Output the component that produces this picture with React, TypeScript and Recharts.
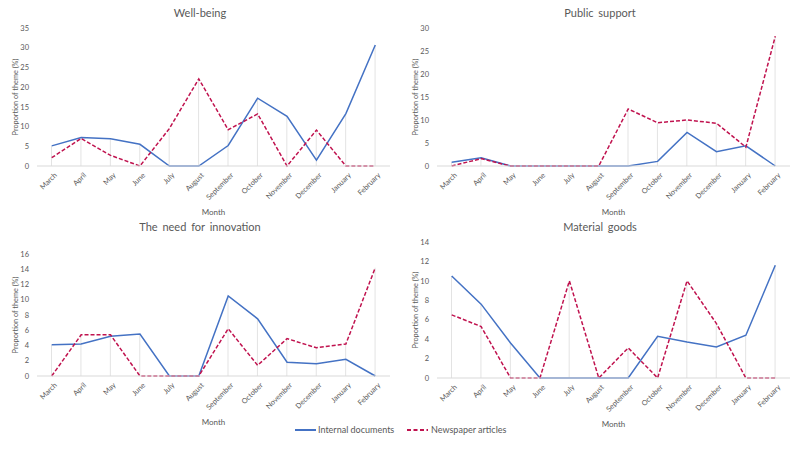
import React from 'react';
import { ComposedChart, Line, Bar, XAxis, YAxis } from 'recharts';

const months = ['March', 'April', 'May', 'June', 'July', 'August', 'September', 'October', 'November', 'December', 'January', 'February'];

const wellInternal = [5.1, 7.2, 6.9, 5.5, 0, 0, 5.2, 17.2, 12.6, 1.5, 13.3, 30.7];
const wellNews = [2.1, 7.0, 2.7, 0, 9.5, 22.1, 9.2, 13.2, 0, 9.1, 0, 0];

const supportInternal = [0.8, 1.8, 0, 0, 0, 0, 0, 1.0, 7.3, 3.1, 4.4, 0];
const supportNews = [0, 1.6, 0, 0, 0, 0, 12.4, 9.4, 10.0, 9.3, 4.1, 28.2];

const innovInternal = [4.1, 4.2, 5.2, 5.5, 0, 0, 10.5, 7.5, 1.8, 1.6, 2.2, 0];
const innovNews = [0, 5.4, 5.4, 0, 0, 0, 6.2, 1.4, 4.9, 3.7, 4.2, 14.2];

const goodsInternal = [10.5, 7.6, 3.6, 0, 0, 0, 0, 4.3, 3.7, 3.2, 4.4, 11.6];
const goodsNews = [6.5, 5.3, 0, 0, 10.0, 0, 3.1, 0, 10.0, 5.6, 0, 0];

const wellTicks = [0, 5, 10, 15, 20, 25, 30, 35];
const supportTicks = [0, 5, 10, 15, 20, 25, 30];
const innovTicks = [0, 2, 4, 6, 8, 10, 12, 14, 16];
const goodsTicks = [0, 2, 4, 6, 8, 10, 12, 14];

const BLUE = '#4472C4';
const RED = '#C0134F';
const FONT = 'Lato, "Open Sans", sans-serif';
const GREY = '#595959';

function build(internal: number[], news: number[]) {
  return months.map((m, i) => ({
    month: m,
    internal: internal[i],
    news: news[i],
    drop: Math.max(internal[i], news[i]),
  }));
}

type PanelProps = {
  title: string;
  internal: number[];
  news: number[];
  ticks: number[];
  left: number;
  top: number;
  height: number;
  marginTop: number;
  titleTop: number;
};

function Panel({ title, internal, news, ticks, left, top, height, marginTop, titleTop }: PanelProps) {
  const data = build(internal, news);
  return (
    <div style={{ position: 'absolute', left, top, width: 400, height }}>
      <div
        style={{
          position: 'absolute',
          left: 0,
          width: 400,
          top: titleTop,
          textAlign: 'center',
          fontFamily: FONT,
          fontSize: 11,
          color: GREY,
          wordSpacing: 2,
          lineHeight: '12px',
        }}
      >
        {title}
      </div>
      <ComposedChart
        width={400}
        height={height}
        data={data}
        margin={{ top: marginTop, right: 10, bottom: 0, left: 8 }}
        style={{ position: 'absolute', left: 0, top: 0 }}
      >
        <XAxis
          dataKey="month"
          interval={0}
          height={52}
          tickLine={false}
          axisLine={{ stroke: '#d9d9d9' }}
          tick={{ fontSize: 7.3, fill: GREY, fontFamily: FONT, angle: -45, textAnchor: 'end', dy: -2, dx: 2 }}
          label={{ value: 'Month', position: 'insideBottom', offset: 3, fontSize: 8, fill: GREY, fontFamily: FONT }}
        />
        <YAxis
          domain={[0, ticks[ticks.length - 1]]}
          ticks={ticks}
          interval={0}
          width={29}
          axisLine={false}
          tickLine={false}
          tick={{ fontSize: 7.5, fill: GREY, fontFamily: FONT }}
          label={{
            value: 'Proportion of theme (%)',
            angle: -90,
            position: 'insideLeft',
            offset: 7,
            style: { textAnchor: 'middle' },
            fontSize: 7.3,
            fill: GREY,
            fontFamily: FONT,
          }}
        />
        <Bar dataKey="drop" barSize={1} fill="#e3e3e3" isAnimationActive={false} />
        <Line
          type="linear"
          dataKey="internal"
          stroke={BLUE}
          strokeWidth={1.5}
          dot={false}
          activeDot={false}
          isAnimationActive={false}
        />
        <Line
          type="linear"
          dataKey="news"
          stroke={RED}
          strokeWidth={1.5}
          strokeDasharray="4 2"
          dot={false}
          activeDot={false}
          isAnimationActive={false}
        />
      </ComposedChart>
    </div>
  );
}

function LegendRow() {
  return (
    <div
      style={{
        position: 'absolute',
        left: 0,
        top: 423,
        width: 800,
        height: 14,
        fontFamily: FONT,
        fontSize: 9,
        color: GREY,
      }}
    >
      <svg width={800} height={14} style={{ position: 'absolute', left: 0, top: 0 }}>
        <line x1={295} x2={316} y1={7} y2={7} stroke={BLUE} strokeWidth={2} />
        <line x1={407} x2={428} y1={7} y2={7} stroke={RED} strokeWidth={2} strokeDasharray="4 2.5" />
      </svg>
      <span style={{ position: 'absolute', left: 318, top: 0, lineHeight: '14px' }}>Internal documents</span>
      <span style={{ position: 'absolute', left: 431, top: 0, lineHeight: '14px' }}>Newspaper articles</span>
    </div>
  );
}

export default function App() {
  return (
    <div style={{ position: 'absolute', left: 0, top: 0, width: 800, height: 450, background: '#fff', overflow: 'hidden' }}>
      <Panel title="Well-being" internal={wellInternal} news={wellNews} ticks={wellTicks} left={0} top={0} height={218} marginTop={28} titleTop={7} />
      <Panel title="Public support" internal={supportInternal} news={supportNews} ticks={supportTicks} left={400} top={0} height={218} marginTop={28} titleTop={7} />
      <Panel title="The need for innovation" internal={innovInternal} news={innovNews} ticks={innovTicks} left={0} top={215} height={213} marginTop={39} titleTop={6} />
      <Panel title="Material goods" internal={goodsInternal} news={goodsNews} ticks={goodsTicks} left={400} top={215} height={215} marginTop={27} titleTop={6} />
      <LegendRow />
    </div>
  );
}
